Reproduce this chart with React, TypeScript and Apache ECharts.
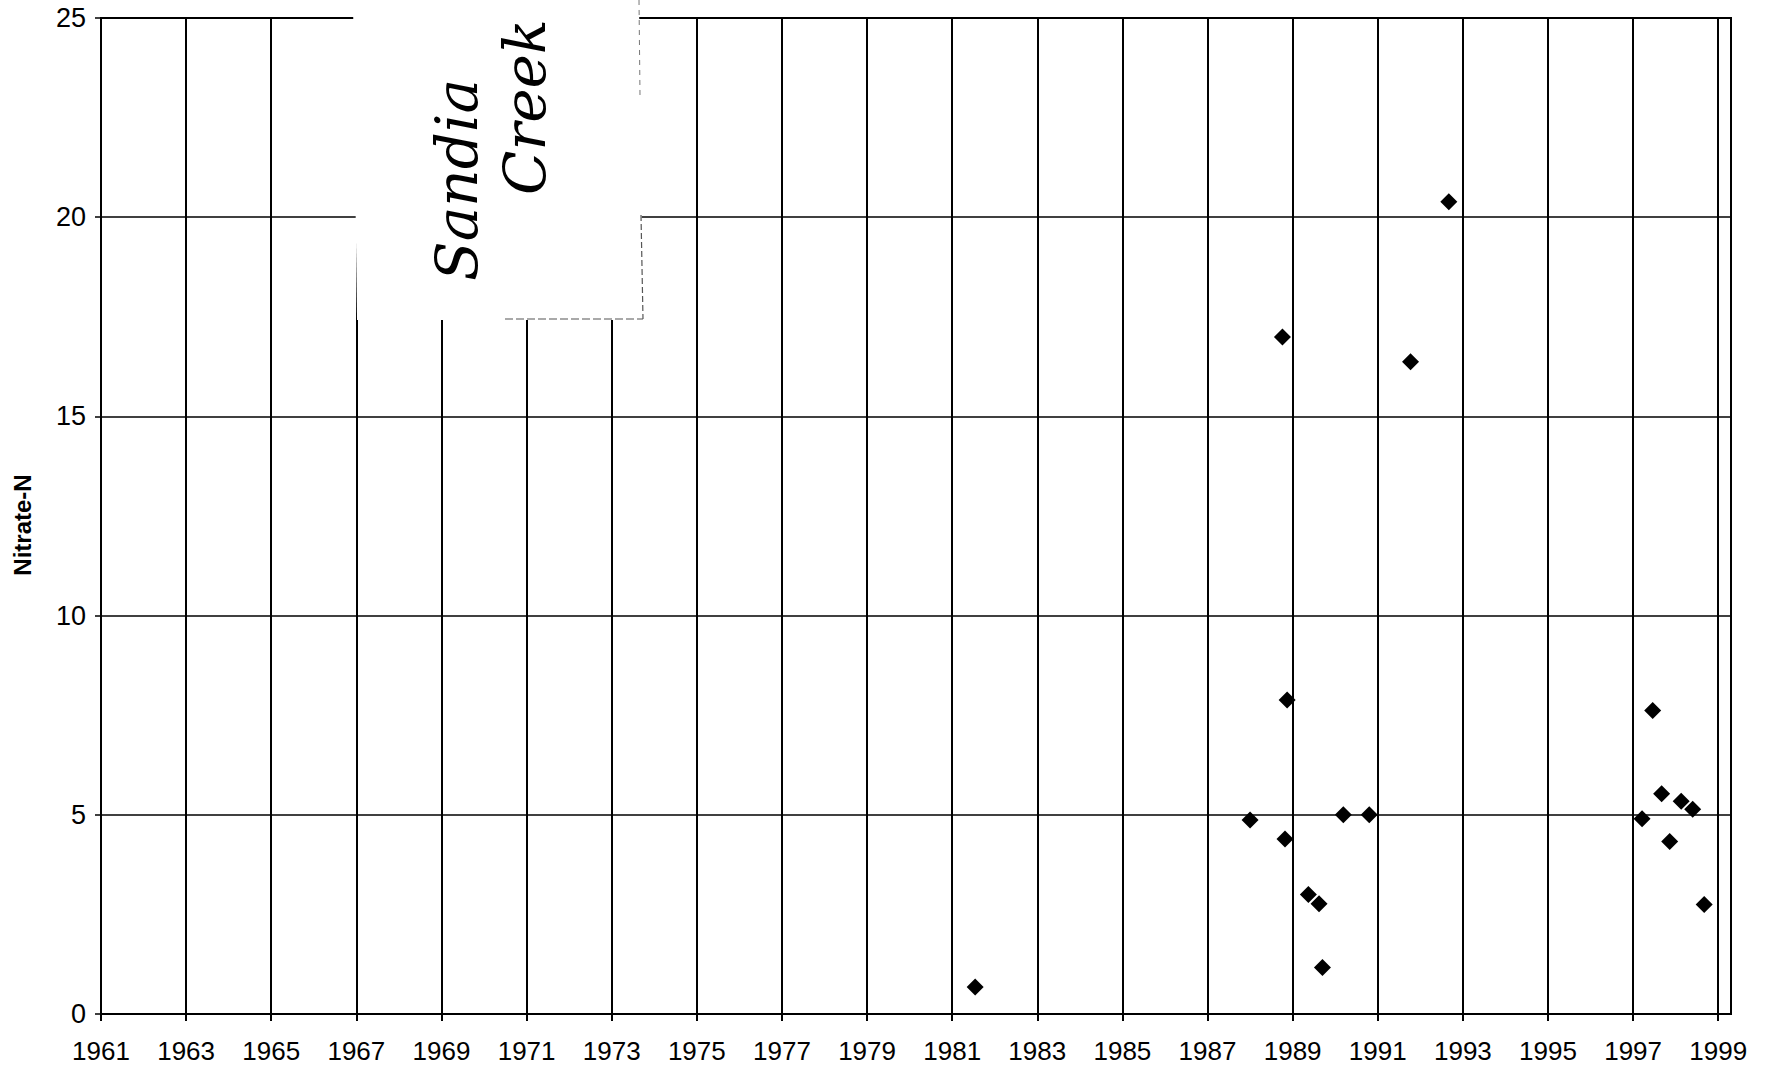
import React, { useEffect, useRef } from "react";
import * as echarts from "echarts";

// Sample dates (decimal years) and Nitrate-N values
const sampleYears: number[] = [
  1981.54, 1988.0, 1988.76, 1988.82, 1988.87, 1989.37, 1989.62, 1989.7,
  1990.19, 1990.8, 1991.77, 1992.67, 1997.21, 1997.46, 1997.67, 1997.86,
  1998.13, 1998.4, 1998.67,
];
const nitrateValues: number[] = [
  0.68, 4.87, 16.99, 4.39, 7.88, 3.0, 2.77, 1.17, 5.0, 5.0, 16.37, 20.39,
  4.9, 7.62, 5.53, 4.33, 5.34, 5.14, 2.75,
];

// Axis settings
const firstYear = 1961;
const lastYear = 1999.3;
const yearStep = 2;
const yMin = 0;
const yMax = 25;
const yStep = 5;
const yAxisTitle = "Nitrate-N";
const noteLines: string[] = ["Sandia", "Creek"];

const FONT = "'Liberation Sans', Arial, Helvetica, sans-serif";
const NARROW = "'Liberation Sans Narrow', 'Arial Narrow', 'Liberation Sans', Arial, sans-serif";

export default function App() {
  const ref = useRef<HTMLDivElement>(null);

  useEffect(() => {
    if (!ref.current) return;
    const chart = echarts.init(ref.current, undefined, { renderer: "svg" });

    const data = sampleYears.map((yr, i) => [yr - firstYear, nitrateValues[i]]);

    chart.setOption({
      animation: false,
      backgroundColor: "#ffffff",
      grid: {
        left: 101,
        right: 39,
        top: 18,
        bottom: 56,
        show: true,
        borderColor: "#000",
        borderWidth: 2,
        backgroundColor: "transparent",
      },
      xAxis: {
        type: "value",
        min: 0,
        max: lastYear - firstYear,
        interval: yearStep,
        axisLine: { show: true, lineStyle: { color: "#000", width: 2 } },
        axisTick: { show: true, length: 7, inside: false, lineStyle: { color: "#000", width: 2 } },
        axisLabel: {
          color: "#000",
          fontFamily: NARROW,
          fontSize: 26,
          margin: 24,
          showMaxLabel: false,
          formatter: (v: number) => {
            const r = Math.round(v);
            return Math.abs(v - r) < 1e-6 && r % yearStep === 0 ? String(firstYear + r) : "";
          },
        },
        splitLine: { show: true, lineStyle: { color: "#000", width: 2 } },
      },
      yAxis: {
        type: "value",
        min: yMin,
        max: yMax,
        interval: yStep,
        name: yAxisTitle,
        nameLocation: "middle",
        nameGap: 67,
        nameTextStyle: {
          color: "#000",
          fontFamily: FONT,
          fontSize: 24,
          fontWeight: "bold",
          padding: [0, 18, 0, 0],
        },
        axisLine: { show: true, lineStyle: { color: "#000", width: 2 } },
        axisTick: { show: true, length: 6, inside: false, lineStyle: { color: "#000", width: 1.5 } },
        axisLabel: {
          color: "#000",
          fontFamily: FONT,
          fontSize: 27,
          margin: 15,
        },
        splitLine: { show: true, lineStyle: { color: "#000", width: 1.5 } },
      },
      series: [
        {
          type: "scatter",
          data,
          symbol: "diamond",
          symbolSize: 17,
          itemStyle: { color: "#000", opacity: 1 },
          z: 3,
        },
      ],
      graphic: [
        {
          type: "polygon",
          z: 100,
          shape: {
            points: [
              [353, 0],
              [639, 0],
              [643, 320],
              [357, 320],
            ],
          },
          style: { fill: "#ffffff", stroke: "none" },
        },
        {
          type: "line",
          z: 101,
          shape: { x1: 641, y1: 215, x2: 643, y2: 319 },
          style: { stroke: "#555", lineWidth: 1.2, lineDash: [6, 3] },
        },
        {
          type: "line",
          z: 101,
          shape: { x1: 505, y1: 319, x2: 643, y2: 319 },
          style: { stroke: "#555", lineWidth: 1.2, lineDash: [8, 3] },
        },
        {
          type: "line",
          z: 101,
          shape: { x1: 639, y1: 0, x2: 640, y2: 95 },
          style: { stroke: "#777", lineWidth: 1, lineDash: [5, 5] },
        },
        {
          type: "text",
          z: 102,
          x: 457,
          y: 180,
          rotation: Math.PI / 2,
          style: {
            text: noteLines[0],
            fill: "#000",
            fontFamily: "'DejaVu Serif', serif",
            fontStyle: "italic",
            fontSize: 58,
            align: "center",
            verticalAlign: "middle",
          },
        },
        {
          type: "text",
          z: 102,
          x: 525,
          y: 107,
          rotation: Math.PI / 2,
          style: {
            text: noteLines[1],
            fill: "#000",
            fontFamily: "'DejaVu Serif', serif",
            fontStyle: "italic",
            fontSize: 58,
            align: "center",
            verticalAlign: "middle",
          },
        },
      ],
    });

    return () => chart.dispose();
  }, []);

  return (
    <div
      ref={ref}
      style={{ position: "fixed", left: 0, top: 0, width: 1770, height: 1070, background: "#fff" }}
    />
  );
}
